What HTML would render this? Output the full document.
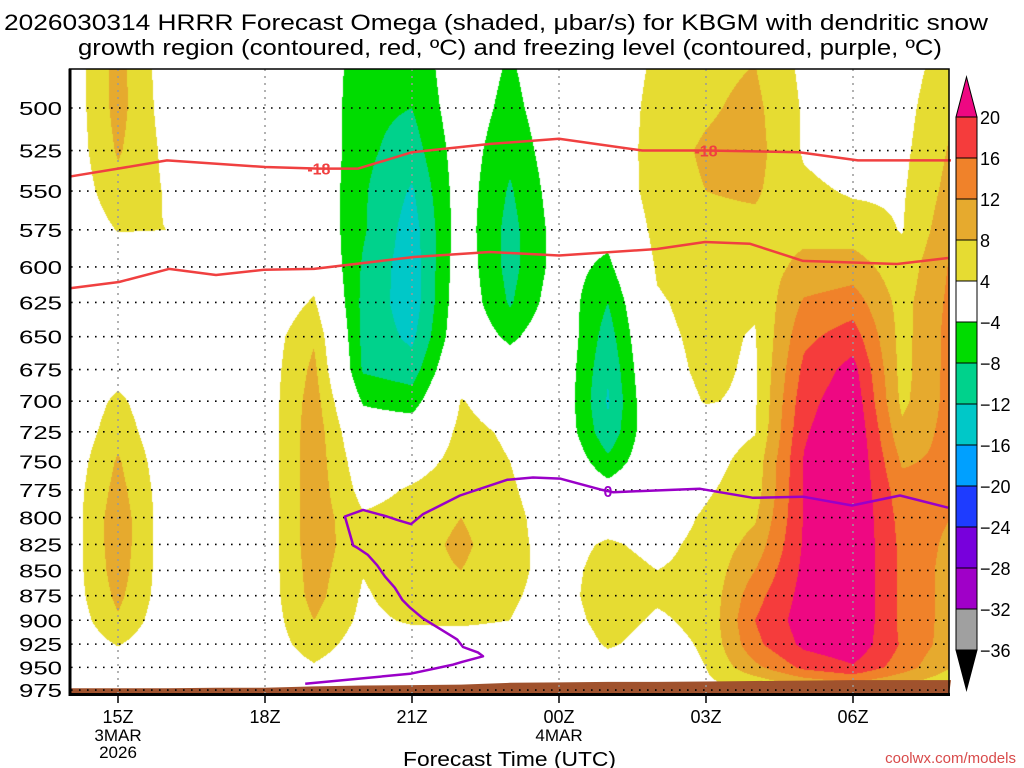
<!DOCTYPE html>
<html><head><meta charset="utf-8">
<style>
html,body{margin:0;padding:0;background:#fff;}
#wrap{position:relative;width:1024px;height:768px;overflow:hidden;font-family:"Liberation Sans",sans-serif;}
#field{position:absolute;left:70px;top:69px;}
#ov{position:absolute;left:0;top:0;}
</style></head>
<body>
<div id="wrap">
<canvas id="field" width="879" height="626"></canvas>
<svg id="ov" width="1024" height="768"></svg>
</div>
<script>
// ---- data ----
const times = [14,15,16,17,18,19,20,21,22,23,24,25,26,27,28,29,30,31,32];
const levels = [475,500,525,550,575,600,625,650,675,700,725,750,775,800,825,850,875,900,925,950,975,1000];
const omega = [
[1,1,1,1,0.5,0,0,0,0,0,0.5,1,1.5,1.5,1.5,1.5,1.5,1,0.5,0,0,0],
[9.5,9.5,8.5,6.5,4.2,1,0,0,2,5,6.5,8.5,9.5,10.5,10.5,10,9,7.5,4.3,1.5,0,0],
[1.5,2,3,3.7,4,1.5,0,0,0,0,0.5,1,1.5,1.5,1.5,1.5,1.5,1,0.5,0,0,0],
[0,0,0,0,0,0,0,0,0,0,0,0,0,0,0,0,0,0,0,0,0,0],
[0,0,0,0,0,0,0.5,1.5,1.5,1.5,1.5,1.5,1.5,1.5,1.5,1.5,1.5,1.5,1.5,1,0,0],
[0,0,0,0,0,2,4.5,7.5,9,10,10.5,10.5,10.5,10.5,10.5,10,9.5,8,6,3.5,1,1],
[-6.5,-7,-7,-7.5,-7.5,-8.5,-9,-9,-8.5,-4.5,-1,1,2.5,4.5,5,4.2,3.5,3,2,1,0,0],
[-7,-8,-10,-12.5,-14,-14.5,-14.5,-13,-10,-6,-1,2,4.5,5.5,6,6.5,6,4.5,2,1,0,0],
[-0.5,-1,-1.5,-1.5,-1.5,-1,-0.5,0,2,4.2,5,5.5,6.5,8,9,8,6.5,4.5,2.5,1,0,0],
[-4.5,-5.5,-7,-8.5,-9.5,-9.5,-8.5,-5,-1,2,3.5,4,4.5,5,5,5,4.5,4,2.5,1,0,0],
[0,-0.5,-1,-1.5,-2,-2,-1,0,0,0,0,1,1.5,2,2.5,2.5,2.5,2,1,0,0,0],
[0,0,0,-0.5,-2.5,-5,-8,-10,-11.5,-12.5,-11,-7,-2,2,4.5,5.5,6,5.5,4.5,2,1,1],
[5,6,6.5,6.5,5.5,4.5,3.5,3,2.5,2,1,0.5,1,2,3,4,4.5,3.5,2.5,2,1,1],
[7,7.5,8.5,8,7,6.5,5.5,5,4.8,4.2,2,2.5,3.5,4.5,5,5,5,5,4.5,4,3,3],
[8,9,9.5,8.5,7,6,4.5,3.7,3.5,3.5,3.8,5.5,6,7.5,9.5,12,14.5,16,15,11,3,3],
[3,3.5,3.5,5,7,9,12.5,15,17,18.5,19.5,20.3,20.3,20.3,20.5,21,21.5,22,21,17,6,6],
[0,0.5,1.5,3.5,6,10,14,18,21.5,23,24,24,24,24,24,24,24,24,23,19.5,8,8],
[2,2.5,3,3.5,3.8,5.5,6.5,6.5,6.5,7,9,11.5,13.5,14.5,15,15,15,15,15.5,14,6,6],
[6,7.5,8.5,9.5,11,12.5,13,13.5,13.5,13.5,13.5,13,12.5,12,11,10.5,10.5,10.5,10,8,4,4]
];
const redUpperTime = [14,15,16,18,19.1,19.9,21,22.6,24,25.7,27,28.9,30.1,32];
const redUpperP = [541,536,531,535,536,536,526,521,518,525,525,526,531,531];
const redLowerTime = [14,15.02,16.04,17,17.98,19,21.04,22.59,24,26,26.98,27.9,28.98,30.9,31.94];
const redLowerP = [615,610.5,601.4,605.6,602,601.4,593.2,589.8,592.2,587.8,583.1,584.3,595.9,598,593.9];
const frzTime = [18.82,20.96,21.84,22.02,22.45,22.35,22.04,21.92,21.22,20.96,20.8,20.65,20.45,20.29,20.1,19.88,19.8,19.63,20.0,20.49,20.69,20.98,21.22,21.98,22.94,23.47,24.02,24.88,25.1,25.65,26.88,27.96,28.98,29.98,30.96,31.94];
const frzP = [968,957,947,944,938,934,928,920,898,887,879,867,856,845,835,828,826,799,793,799,802,806,797,780,766,764,765,775,777,776,774,782,781,789,780,791];
const surfaceP = [973,973,973,972.5,972.5,971,970,969.5,969,967,966.5,966,966,965.5,965,964.5,964,964,964];
const xTickTimes = [15,18,21,24,27,30];
const xTickLabels = ["15Z","18Z","21Z","00Z","03Z","06Z"];
const yTickLevels = [500,525,550,575,600,625,650,675,700,725,750,775,800,825,850,875,900,925,950,975];
const cbLabels = ["20","16","12","8","4","\u22124","\u22128","\u221212","\u221216","\u221220","\u221224","\u221228","\u221232","\u221236"];
const cbColors = ["#f53c3c","#f0822a","#e6aa2e","#e6dc32","#ffffff","#00dc00","#00d28c","#00c8c8","#00a0ff","#1e3cff","#7800dc","#a000c8","#a0a0a0"];

// ---- axes ----
const X0=69, PXH=49, Y500=108, KY=871.5;
function xOf(t){return X0+(t-14)*PXH;}
function yOf(p){return Y500+KY*Math.log(p/500);}
function tOf(x){return 14+(x-X0)/PXH;}
function pOf(y){return 500*Math.exp((y-Y500)/KY);}

function colorOf(v){
  if(v>=20) return [238,8,130];
  if(v>=16) return [245,60,60];
  if(v>=12) return [240,130,42];
  if(v>=8) return [230,170,46];
  if(v>=4) return [230,220,50];
  if(v>-4) return [255,255,255];
  if(v>-8) return [0,220,0];
  if(v>-12) return [0,210,140];
  if(v>-16) return [0,200,200];
  if(v>-20) return [0,160,255];
  if(v>-24) return [30,60,255];
  if(v>-28) return [120,0,220];
  if(v>-32) return [160,0,200];
  if(v>-36) return [160,160,160];
  return [0,0,0];
}
function valueAt(t,p){
  let i=Math.floor(t-times[0]); if(i<0)i=0; if(i>times.length-2)i=times.length-2;
  let ft=(t-times[i]); ft=Math.max(0,Math.min(1,ft));
  let j=Math.floor((p-levels[0])/25); if(j<0)j=0; if(j>levels.length-2)j=levels.length-2;
  let fp=(p-levels[j])/25; fp=Math.max(0,Math.min(1,fp));
  const a=omega[i][j],b=omega[i+1][j],c=omega[i][j+1],d=omega[i+1][j+1];
  return a*(1-ft)*(1-fp)+b*ft*(1-fp)+c*(1-ft)*fp+d*ft*fp;
}
const cv=document.getElementById('field');
const ctx=cv.getContext('2d');
const img=ctx.createImageData(cv.width,cv.height);
for(let py=0;py<cv.height;py++){
  const p=pOf(69+py+0.5);
  for(let px=0;px<cv.width;px++){
    const t=tOf(70+px+0.5);
    const c=colorOf(valueAt(t,p));
    const k=(py*cv.width+px)*4;
    img.data[k]=c[0];img.data[k+1]=c[1];img.data[k+2]=c[2];img.data[k+3]=255;
  }
}
ctx.putImageData(img,0,0);

const NS="http://www.w3.org/2000/svg";
const svg=document.getElementById('ov');
function mk(tag,attrs,parent){const e=document.createElementNS(NS,tag);for(const k in attrs)e.setAttribute(k,attrs[k]);(parent||svg).appendChild(e);return e;}

let gpts=[];
for(let i=0;i<times.length;i++){gpts.push(xOf(times[i])+','+yOf(surfaceP[i]).toFixed(1));}
const ground=mk('polygon',{points:X0+',695 '+gpts.join(' ')+' 949,695',fill:'#a0522d'});



for(const lv of yTickLevels){
  const g=mk('line',{x1:71,x2:949,y1:yOf(lv),y2:yOf(lv),stroke:'#000','stroke-width':1.6,'stroke-dasharray':'1.6 6.4'});
  
  
}
for(const t of xTickTimes){
  const g=mk('line',{x1:xOf(t),x2:xOf(t),y1:69,y2:694,stroke:'#999','stroke-width':1.5,'stroke-dasharray':'2 5'});
  
  
}
function polyline(ts,ps,color,name){
  const pts=ts.map((t,i)=>xOf(t).toFixed(1)+','+yOf(ps[i]).toFixed(1)).join(' ');
  const l=mk('polyline',{points:pts,fill:'none',stroke:color,'stroke-width':2.5,'stroke-linejoin':'round'});
  
  
}
polyline(redUpperTime,redUpperP,'#f04040','dgz-upper-contour');
polyline(redLowerTime,redLowerP,'#f04040','dgz-lower-contour');
polyline(frzTime,frzP,'#9a00c8','freezing-level-contour');
function clabel(t,p,txt,color,name){
  const e=mk('text',{x:xOf(t),y:yOf(p)+6,'text-anchor':'middle','font-size':16,'font-weight':'bold',fill:color});
  e.textContent=txt;
  
  
}
clabel(19.1,536,'-18','#f04040','contour-label-18a');
clabel(27.0,525,'-18','#f04040','contour-label-18b');
clabel(25.0,776,'0','#9a00c8','contour-label-0');

const fr=mk('rect',{x:69.5,y:69,width:879.5,height:625,fill:'none',stroke:'#000','stroke-width':1.5});


mk('line',{x1:70,x2:70,y1:69,y2:696,stroke:'#000','stroke-width':3});
mk('line',{x1:69,x2:950,y1:694.5,y2:694.5,stroke:'#000','stroke-width':3});

for(const lv of yTickLevels){
  const e=mk('text',{x:62,y:yOf(lv)+7,'text-anchor':'end','font-size':18,textLength:43,lengthAdjust:'spacingAndGlyphs',fill:'#000'});
  e.textContent=lv;
  
  
}
xTickTimes.forEach((t,i)=>{
  mk('line',{x1:xOf(t),x2:xOf(t),y1:695,y2:703,stroke:'#000','stroke-width':1.5});
  const e=mk('text',{x:xOf(t),y:723,'text-anchor':'middle','font-size':18,fill:'#000'});
  e.textContent=xTickLabels[i];
  
  
});
[['3MAR',15,741],['2026',15,758],['4MAR',24,741]].forEach(a=>{
  const e=mk('text',{x:xOf(a[1]),y:a[2],'text-anchor':'middle','font-size':17,fill:'#000'});
  e.textContent=a[0];
  
  
});

const CBX=956,CBW=21,CBT=117,CBH=41;
const tri=mk('polygon',{points:CBX+','+CBT+' '+(CBX+CBW)+','+CBT+' '+(CBX+CBW/2)+',77',fill:'#ee0882',stroke:'#000','stroke-width':1});


cbColors.forEach((c,i)=>{
  const r=mk('rect',{x:CBX,y:CBT+i*CBH,width:CBW,height:CBH,fill:c,stroke:'#000','stroke-width':1});
  
  
});
const yb=CBT+cbColors.length*CBH;
const tri2=mk('polygon',{points:CBX+','+yb+' '+(CBX+CBW)+','+yb+' '+(CBX+CBW/2)+',690',fill:'#000',stroke:'#000','stroke-width':1});


cbLabels.forEach((s,i)=>{
  const e=mk('text',{x:980,y:CBT+i*CBH+7,'font-size':18,fill:'#000'});
  e.textContent=s;
  
  
});
</script>
<svg width="1024" height="768" style="position:absolute;left:0;top:0;pointer-events:none">
<text x="4" y="30" font-size="22" textLength="984" lengthAdjust="spacingAndGlyphs" font-family="Liberation Sans, sans-serif">2026030314 HRRR Forecast Omega (shaded, μbar/s) for KBGM with dendritic snow</text>
<text x="78" y="55" font-size="22" textLength="864" lengthAdjust="spacingAndGlyphs" font-family="Liberation Sans, sans-serif">growth region (contoured, red, ºC) and freezing level (contoured, purple, ºC)</text>
<text x="403" y="766" font-size="20" textLength="213" lengthAdjust="spacingAndGlyphs" font-family="Liberation Sans, sans-serif">Forecast Time (UTC)</text>
<text x="1016" y="763" text-anchor="end" font-size="15" fill="#d84a4a" font-family="Liberation Sans, sans-serif">coolwx.com/models</text>
</svg>
</body></html>
